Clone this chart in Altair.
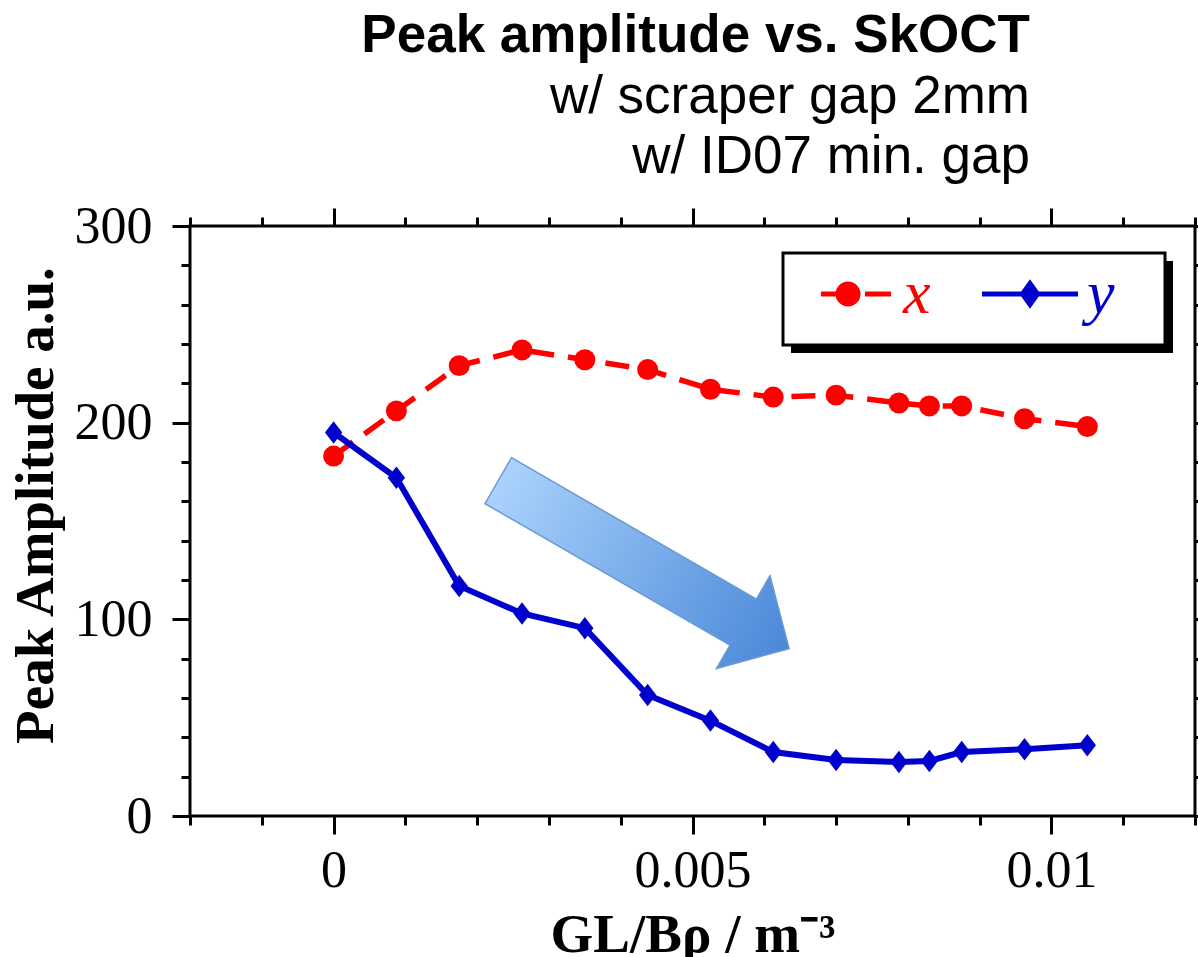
import altair as alt
import pandas as pd

# ---- data ----
gl = [0, 0.000875, 0.00175, 0.002625, 0.0035, 0.004375, 0.00525,
      0.006125, 0.007, 0.007875, 0.0083, 0.00875, 0.009625, 0.0105]
amp_x = [183, 206, 229, 237, 232, 227, 217, 213, 214, 210, 208.5, 208.5, 202, 198]
amp_y = [195, 172, 117, 103, 95.5, 61.5, 48.5, 32.5, 28.5, 27.5, 28, 32.5, 34, 36]
series_names = ["x", "y"]
series_colors = ["#ff0000", "#0000cc"]

x_major = [0, 0.005, 0.01]
x_minor = [-0.002, -0.001, 0.001, 0.002, 0.003, 0.004, 0.006, 0.007, 0.008,
           0.009, 0.011, 0.012]
y_major = [0, 100, 200, 300]
y_minor = [20, 40, 60, 80, 120, 140, 160, 180, 220, 240, 260, 280]

arrow_gl = [0.00433]
arrow_amp = [127.6]

df = pd.DataFrame({
    "gl": gl + gl,
    "amp": amp_x + amp_y,
    "series": ["x"] * len(gl) + ["y"] * len(gl),
})
arrow_df = pd.DataFrame({"gl": arrow_gl, "amp": arrow_amp})

xs = alt.Scale(domain=[-0.002, 0.012], nice=False, zero=False)
ys = alt.Scale(domain=[0, 300], nice=False, zero=False)
cs = alt.Scale(domain=series_names, range=series_colors)

SERIF = "Liberation Serif"
SANS = "Liberation Sans"

common = dict(domain=False, grid=False, ticks=True, tickColor="black", tickWidth=3)

ax_xb = alt.Axis(orient="bottom", values=x_major, tickSize=18,
                 labelExpr="format(datum.value, '~g')", labelFont=SERIF,
                 labelFontSize=52, labelColor="black", labelPadding=11,
                 labelFlush=False, labelOverlap=False,
                 title="GL/Bρ / m⁻³", titleFont=SERIF, titleFontSize=55,
                 titleFontWeight="bold", titleColor="black",
                 titleBaseline="alphabetic", titleY=135, **common)
ax_xb_min = alt.Axis(orient="bottom", values=x_minor, tickSize=9, labels=False,
                     title=None, **common)
ax_xt = alt.Axis(orient="top", values=x_major, tickSize=18, labels=False,
                 title=None, **common)
ax_xt_min = alt.Axis(orient="top", values=x_minor, tickSize=9, labels=False,
                     title=None, **common)

ax_yl = alt.Axis(orient="left", values=y_major, tickSize=18, format="d",
                 labelFont=SERIF, labelFontSize=52, labelColor="black",
                 labelPadding=20, labelFlush=False, labelOverlap=False,
                 title="Peak Amplitude a.u.", titleFont=SERIF, titleFontSize=55,
                 titleFontWeight="bold", titleColor="black", titleAngle=270,
                 titleX=-138, titleY=279, titleAlign="center",
                 titleBaseline="alphabetic", **common)
ax_yl_min = alt.Axis(orient="left", values=y_minor, tickSize=9, labels=False,
                     title=None, **common)
ax_yr = alt.Axis(orient="right", values=y_major, tickSize=18, labels=False,
                 title=None, **common)
ax_yr_min = alt.Axis(orient="right", values=y_minor, tickSize=9, labels=False,
                     title=None, **common)


def X(axis):
    return alt.X("gl:Q", scale=xs, axis=axis)


def Y(axis):
    return alt.Y("amp:Q", scale=ys, axis=axis)


# legend sample glyphs (units of 10 px)
RED_SYM = ("M -3.5 0 L -0.8 0 "
           "M -1.8 0 A 1 1 0 1 0 0.2 0 A 1 1 0 1 0 -1.8 0 Z "
           "M 0.9 0 L 3.5 0")
BLUE_SYM = ("M -4.8 0 L 4.8 0 "
            "M -0.75 0 L 0 -1.05 L 0.75 0 L 0 1.05 Z")


def make_legend(color, lx, ly, offset):
    return alt.Legend(
        title=None, orient="none", legendX=lx, legendY=ly, direction="horizontal",
        padding=0, symbolSize=400, symbolStrokeWidth=5, symbolOpacity=1,
        labelColor=color, labelFont=SERIF, labelFontSize=62,
        labelFontStyle="italic", labelOffset=offset,
    )


color_nolegend = alt.Color("series:N", scale=cs, legend=None)

ARROW = ("M -1 -0.157 L 0.676 -0.157 L 0.676 -0.317 L 0.99 0 "
         "L 0.676 0.317 L 0.676 0.157 L -1 0.157 Z")
grad = alt.LinearGradient(
    gradient="linear",
    stops=[alt.GradientStop(color="#aad2fc", offset=0),
           alt.GradientStop(color="#4a88d8", offset=1)],
    x1=0, x2=1, y1=0, y2=0,
)

# legend frame with drop shadow (decoration)
shadow = alt.Chart(arrow_df).mark_rect(color="black").encode(
    x=alt.value(601), x2=alt.value(983), y=alt.value(35), y2=alt.value(127))
frame = alt.Chart(arrow_df).mark_rect(fill="white", stroke="black", strokeWidth=3).encode(
    x=alt.value(593), x2=alt.value(975), y=alt.value(27), y2=alt.value(119))

leg_red = alt.Chart(df).transform_filter("false").mark_point(
    filled=True, fill=series_colors[0], stroke=series_colors[0], strokeWidth=5,
    opacity=1).encode(
    shape=alt.Shape("series:N",
                    scale=alt.Scale(domain=[series_names[0]], range=[RED_SYM]),
                    legend=make_legend(series_colors[0], 635, 37, 16)))
leg_blue = alt.Chart(df).transform_filter("false").mark_point(
    filled=True, fill=series_colors[1], stroke=series_colors[1], strokeWidth=5,
    opacity=1).encode(
    shape=alt.Shape("series:N",
                    scale=alt.Scale(domain=[series_names[1]], range=[BLUE_SYM]),
                    legend=make_legend(series_colors[1], 809, 37, 26)))

arrow = alt.Chart(arrow_df).mark_point(
    shape=ARROW, size=113974, angle=30, filled=True, fill=grad,
    stroke="#6a9ad4", strokeWidth=1.5, opacity=1,
).encode(x=X(None), y=Y(None))

red = alt.Chart(df).transform_filter("datum.series == 'x'")
blue = alt.Chart(df).transform_filter("datum.series == 'y'")

red_line = red.mark_line(strokeWidth=5.5, strokeDash=[24, 14]).encode(
    x=X(ax_xb), y=Y(ax_yl), color=color_nolegend)
red_pts = red.mark_point(shape="circle", size=440, filled=True, opacity=1).encode(
    x=X(ax_xb_min), y=Y(ax_yl_min), color=color_nolegend)
blue_line = blue.mark_line(strokeWidth=6).encode(
    x=X(ax_xt), y=Y(ax_yr), color=color_nolegend)
blue_pts = blue.mark_point(shape="M -1 0 L 0 -1.3 L 1 0 L 0 1.3 Z", size=300,
                           filled=True, opacity=1).encode(
    x=X(ax_xt_min), y=Y(ax_yr_min), color=color_nolegend)

chart = alt.layer(
    shadow, frame, arrow, red_line, red_pts, blue_line, blue_pts, leg_red, leg_blue
).resolve_axis(
    x="independent", y="independent"
).resolve_scale(
    shape="independent"
).resolve_legend(
    shape="independent"
).properties(
    width=1005, height=590,
    padding={"left": 190, "top": 226, "right": 3, "bottom": 141},
    autosize=alt.AutoSizeParams(type="none"),
    background="white",
    title=alt.TitleParams(
        text="Peak amplitude vs. SkOCT",
        subtitle=["w/ scraper gap 2mm", "w/ ID07 min. gap"],
        anchor="end", frame="group", dx=-165, offset=16,
        font=SANS, fontSize=53, fontWeight="bold", color="black",
        subtitleFont=SANS, subtitleFontSize=53, subtitleColor="black",
        subtitleFontWeight="normal", subtitleLineHeight=60, subtitlePadding=8,
    ),
).configure_view(stroke="black", strokeWidth=3)

chart.save("out.html", embed_options={"renderer": "svg", "actions": False})
